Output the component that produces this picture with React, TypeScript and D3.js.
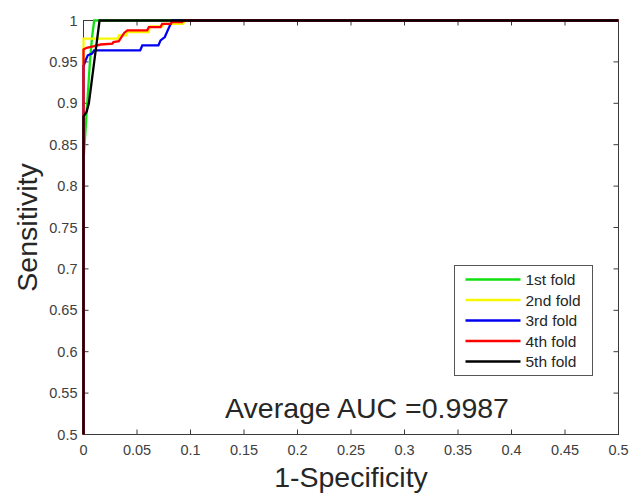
import React from "react";
import * as d3 from "d3";

const foldNames = ["1st fold", "2nd fold", "3rd fold", "4th fold", "5th fold"];
const foldColors = ["#10e010", "#f7f700", "#0000f0", "#ff0000", "#000000"];

// 1-Specificity (FPR) and Sensitivity (TPR) per fold
const fpr1 = [0, 0, 0.002, 0.004, 0.006, 0.008, 0.010, 0.5];
const tpr1 = [0, 0.83, 0.87, 0.91, 0.95, 0.98, 1, 1];

const fpr2 = [0, 0, 0.032, 0.033, 0.040, 0.041, 0.061, 0.062, 0.074, 0.075, 0.093, 0.095, 0.5];
const tpr2 = [0, 0.978, 0.978, 0.982, 0.982, 0.986, 0.986, 0.993, 0.993, 0.996, 0.996, 1, 1];

const fpr3 = [0, 0, 0.002, 0.004, 0.008, 0.010, 0.053, 0.055, 0.070, 0.072, 0.076, 0.079, 0.083, 0.5];
const tpr3 = [0, 0.945, 0.952, 0.958, 0.960, 0.964, 0.964, 0.970, 0.970, 0.976, 0.980, 0.989, 1, 1];

const fpr4 = [0, 0, 0.003, 0.010, 0.016, 0.027, 0.028, 0.033, 0.035, 0.038, 0.041, 0.0595, 0.061, 0.072, 0.0735, 0.081, 0.083, 0.092, 0.094, 0.5];
const tpr4 = [0, 0.965, 0.967, 0.969, 0.971, 0.972, 0.974, 0.975, 0.979, 0.985, 0.988, 0.988, 0.992, 0.992, 0.996, 0.996, 0.998, 0.998, 1, 1];

const fpr5 = [0, 0, 0.003, 0.005, 0.007, 0.009, 0.011, 0.013, 0.015, 0.5];
const tpr5 = [0, 0.884, 0.890, 0.900, 0.920, 0.940, 0.960, 0.980, 1, 1];

const foldFpr = [fpr1, fpr2, fpr3, fpr4, fpr5];
const foldTpr = [tpr1, tpr2, tpr3, tpr4, tpr5];

const xTicks = [0, 0.05, 0.1, 0.15, 0.2, 0.25, 0.3, 0.35, 0.4, 0.45, 0.5];
const yTicks = [0.5, 0.55, 0.6, 0.65, 0.7, 0.75, 0.8, 0.85, 0.9, 0.95, 1];
const aucText = "Average AUC =0.9987";

const W = 632;
const H = 493;
const left = 83.5;
const right = 618.5;
const top = 20.5;
const bottom = 434.5;

export default function App() {
  const x = d3.scaleLinear().domain([0, 0.5]).range([left, right]);
  const y = d3.scaleLinear().domain([0.5, 1]).range([bottom, top]);
  const line = d3
    .line<[number, number]>()
    .x((d) => x(d[0]))
    .y((d) => y(Math.max(d[1], 0.5)));

  const font = "Liberation Sans, Arial, Helvetica, sans-serif";
  const axisColor = "#3a3a3a";
  const tickLen = 5;

  const legX = 454.5;
  const legY = 265.5;
  const legW = 138;
  const legH = 110;
  const rowH = 20.5;

  return (
    <svg
      width={W}
      height={H}
      style={{ position: "absolute", left: 0, top: 0, background: "#fff" }}
      fontFamily={font}
    >
      <rect x={0} y={0} width={W} height={H} fill="#fff" />
      {/* ticks */}
      {xTicks.map((t) => (
        <g key={"xt" + t}>
          <line x1={x(t)} x2={x(t)} y1={bottom} y2={bottom - tickLen} stroke={axisColor} />
          <line x1={x(t)} x2={x(t)} y1={top} y2={top + tickLen} stroke={axisColor} />
          <text
            x={x(t)}
            y={bottom + 20}
            textAnchor="middle"
            fontSize={14.5}
            fill="#404040"
          >
            {String(t)}
          </text>
        </g>
      ))}
      {yTicks.map((t) => (
        <g key={"yt" + t}>
          <line x1={left} x2={left + tickLen} y1={y(t)} y2={y(t)} stroke={axisColor} />
          <line x1={right} x2={right - tickLen} y1={y(t)} y2={y(t)} stroke={axisColor} />
          <text
            x={left - 6}
            y={y(t) + 5}
            textAnchor="end"
            fontSize={14.5}
            fill="#404040"
          >
            {String(t)}
          </text>
        </g>
      ))}
      <rect
        x={left}
        y={top}
        width={right - left}
        height={bottom - top}
        fill="none"
        stroke={axisColor}
        strokeWidth={1}
      />
      {/* curves */}
      {foldFpr.map((fp, i) => {
        const pts: [number, number][] = fp.map((v, j) => [v, foldTpr[i][j]]);
        return (
          <path
            key={"c" + i}
            d={line(pts) || ""}
            fill="none"
            stroke={foldColors[i]}
            strokeWidth={2.3}
            strokeLinejoin="miter"
          />
        );
      })}
      {/* legend */}
      <rect x={legX} y={legY} width={legW} height={legH} fill="#fff" stroke="#555" strokeWidth={1} />
      {foldNames.map((n, i) => {
        const cy = legY + 14 + i * rowH;
        return (
          <g key={"lg" + i}>
            <line x1={legX + 11} x2={legX + 66} y1={cy} y2={cy} stroke={foldColors[i]} strokeWidth={2.3} />
            <text x={legX + 71} y={cy + 5.5} fontSize={15.5} fill="#262626">
              {n}
            </text>
          </g>
        );
      })}
      {/* AUC */}
      <text x={367} y={418} textAnchor="middle" fontSize={28.5} fill="#262626">
        {aucText}
      </text>
      {/* axis labels */}
      <text x={351} y={487} textAnchor="middle" fontSize={28.5} fill="#262626">
        1-Specificity
      </text>
      <text
        transform={`translate(37, ${(top + bottom) / 2}) rotate(-90)`}
        textAnchor="middle"
        fontSize={28.5}
        fill="#262626"
      >
        Sensitivity
      </text>
    </svg>
  );
}
